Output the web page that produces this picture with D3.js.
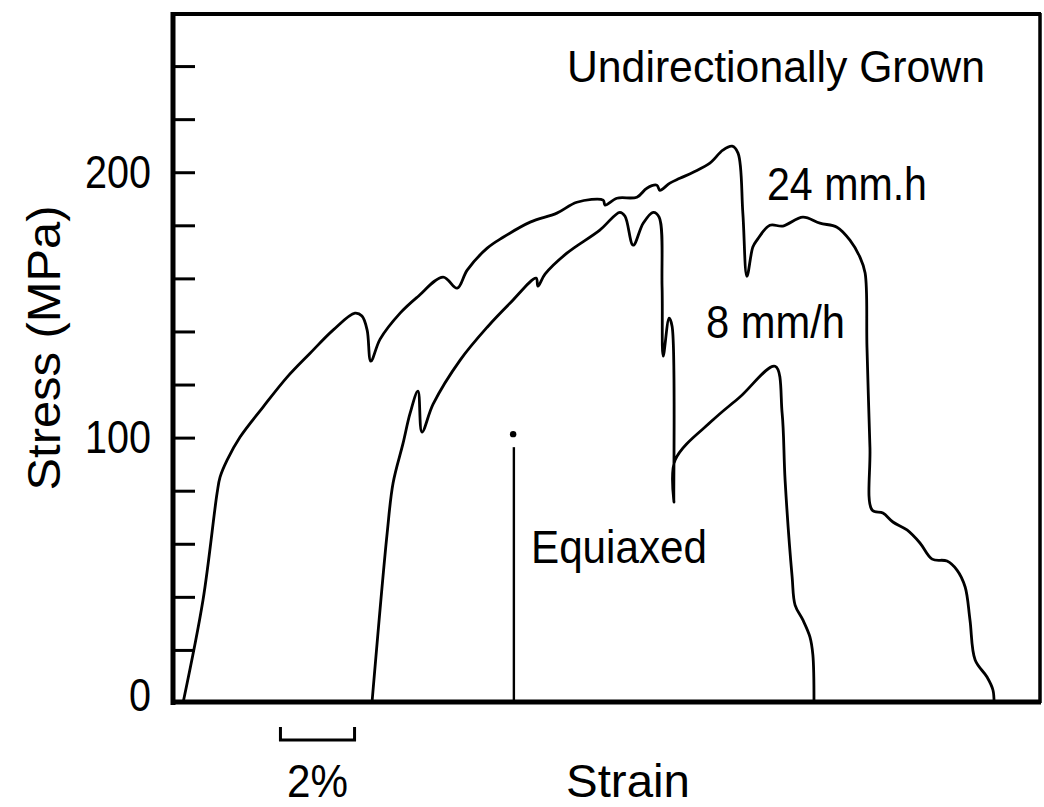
<!DOCTYPE html>
<html>
<head>
<meta charset="utf-8">
<script src="https://cdnjs.cloudflare.com/ajax/libs/d3/7.8.5/d3.min.js"></script>
<style>
  body { margin: 0; background: #fff; }
  svg { display: block; }
  text { font-family: "Liberation Sans", Arial, sans-serif; fill: #000; }
</style>
</head>
<body>
<div id="chart"></div>
<script>
// strain in %, stress in MPa
const grown24 = [
  [0.27, 0], [0.81, 38.8], [1.19, 79.1], [1.27, 85.1], [1.46, 91.5], [1.81, 100.2],
  [2.43, 111.5], [3.08, 122.8], [3.70, 131.8], [4.32, 140.5], [4.91, 146.9], [5.10, 145.8],
  [5.24, 140.5], [5.34, 128.8], [5.59, 137.1], [6.13, 146.9], [6.59, 152.9], [7.29, 160.5],
  [7.67, 156.3], [7.94, 163.1], [8.48, 171.4], [8.91, 175.5], [9.64, 181.2], [10.36, 184.6],
  [10.90, 188.7], [11.61, 189.5], [11.66, 187.6], [11.98, 190.2], [12.52, 190.6], [12.79, 194.0],
  [13.06, 195.1], [13.14, 193.2], [13.41, 195.9], [13.68, 197.7], [14.04, 200.0], [14.49, 203.4],
  [14.84, 208.3], [15.09, 209.8], [15.25, 207.2], [15.38, 184.6], [15.49, 160.8], [15.65, 171.8],
  [15.76, 174.4], [16.11, 180.0], [16.46, 179.7], [17.00, 183.1], [17.46, 180.8], [17.92, 179.3],
  [18.27, 174.4], [18.54, 168.0], [18.68, 162.0], [18.73, 134.1], [18.81, 96.4], [18.87, 72.7],
  [19.16, 71.6], [19.43, 68.2], [19.81, 65.2], [20.16, 60.3], [20.49, 54.2], [20.89, 53.5],
  [21.16, 50.1], [21.38, 43.7], [21.51, 31.3], [21.65, 16.2], [21.97, 9.8], [22.13, 4.9], [22.16, 0]
];
const grown8 = [
  [5.37, 0], [5.78, 64.0], [5.94, 82.9], [6.21, 97.9], [6.40, 109.2], [6.61, 117.5],
  [6.72, 102.1], [7.02, 112.6], [7.75, 129.2], [8.48, 141.6], [9.10, 150.7], [9.80, 160.1],
  [9.85, 157.1], [10.04, 161.6], [10.63, 169.5], [11.52, 178.2], [12.06, 184.9], [12.20, 183.4],
  [12.42, 172.5], [12.69, 180.8], [12.96, 184.9], [13.12, 183.1], [13.20, 156.7], [13.23, 130.7],
  [13.39, 145.0], [13.47, 142.0], [13.52, 75.7], [13.55, 91.5], [14.57, 106.6], [15.30, 115.3],
  [16.25, 126.9], [16.44, 109.2], [16.52, 84.0], [16.71, 47.5], [16.79, 36.9], [17.00, 31.3],
  [17.19, 24.9], [17.27, 18.1], [17.30, 0]
];
const equiaxed = [[9.20, 0], [9.20, 96.4]];
const equiaxedBreak = [9.18, 101.3];
const minorTicks = [20, 40, 60, 80, 100, 120, 140, 160, 180, 200, 220, 240];
const tickLabels = [0, 100, 200];
const scaleBar = [2.9, 4.9];

const width = 1044, height = 807;
const svg = d3.select("#chart").append("svg")
  .attr("width", width).attr("height", height);

const xScale = d3.scaleLinear().domain([0, 23.4]).range([173, 1040]);
const yScale = d3.scaleLinear().domain([0, 260]).range([703, 13]);

// frame
svg.append("line").attr("x1", 173).attr("x2", 173).attr("y1", 12).attr("y2", 705)
  .attr("stroke", "#000").attr("stroke-width", 5);
svg.append("line").attr("x1", 171).attr("x2", 1041).attr("y1", 702).attr("y2", 702)
  .attr("stroke", "#000").attr("stroke-width", 5);
svg.append("line").attr("x1", 171).attr("x2", 1041).attr("y1", 14).attr("y2", 14)
  .attr("stroke", "#000").attr("stroke-width", 4);
svg.append("line").attr("x1", 1040).attr("x2", 1040).attr("y1", 13).attr("y2", 703)
  .attr("stroke", "#000").attr("stroke-width", 3.5);

// inward ticks
const tickAxis = d3.axisRight(yScale).tickValues(minorTicks).tickSize(22).tickFormat("");
svg.append("g").attr("transform", "translate(173,0)").call(tickAxis)
  .call(g => g.select(".domain").remove())
  .call(g => g.selectAll("line").attr("stroke-width", 3));

// labels on the left
const labelAxis = d3.axisLeft(yScale).tickValues(tickLabels).tickSize(0).tickPadding(22);
svg.append("g").attr("transform", "translate(173,0)").call(labelAxis)
  .call(g => g.select(".domain").remove())
  .call(g => g.selectAll("text")
    .style("font-family", "'Liberation Sans', Arial, sans-serif")
    .style("font-size", "47px")
    .attr("textLength", d => d === 0 ? 22 : 66)
    .attr("lengthAdjust", "spacingAndGlyphs")
    .attr("dy", d => d === 0 ? "0.15em" : "0.32em"));

// curves
const line = d3.line()
  .x(d => xScale(d[0]))
  .y(d => yScale(d[1]))
  .curve(d3.curveCatmullRom.alpha(0.5));

[grown24, grown8].forEach(s => {
  svg.append("path").datum(s)
    .attr("d", line)
    .attr("fill", "none")
    .attr("stroke", "#000")
    .attr("stroke-width", 2.8)
    .attr("stroke-linejoin", "round");
});

svg.append("path").datum(equiaxed)
  .attr("d", d3.line().x(d => xScale(d[0])).y(d => yScale(d[1])))
  .attr("fill", "none")
  .attr("stroke", "#000").attr("stroke-width", 2.4);
svg.append("circle")
  .attr("cx", xScale(equiaxedBreak[0])).attr("cy", yScale(equiaxedBreak[1]))
  .attr("r", 3.2).attr("fill", "#000");

// 2% scale bar
const by = 740;
svg.append("path")
  .attr("d", "M" + xScale(scaleBar[0]) + "," + (by - 13) + "V" + by + "H" + xScale(scaleBar[1]) + "V" + (by - 13))
  .attr("fill", "none").attr("stroke", "#000").attr("stroke-width", 3);

// text
function label(txt, x, y, len, size) {
  return svg.append("text").attr("x", x).attr("y", y)
    .attr("font-size", size).attr("textLength", len)
    .attr("lengthAdjust", "spacingAndGlyphs").text(txt);
}
label("Undirectionally Grown", 567, 82, 418, 44);
label("24 mm.h", 767, 200, 160, 47);
label("8 mm/h", 706, 338, 139, 47);
label("Equiaxed", 531, 563, 176, 47);
label("2%", 287, 797, 61, 47);
label("Strain", 566, 797, 124, 47);

svg.append("text")
  .attr("transform", "translate(60,348) rotate(-90)")
  .attr("text-anchor", "middle")
  .attr("font-size", 47)
  .attr("textLength", 285)
  .attr("lengthAdjust", "spacingAndGlyphs")
  .text("Stress (MPa)");
</script>
</body>
</html>
